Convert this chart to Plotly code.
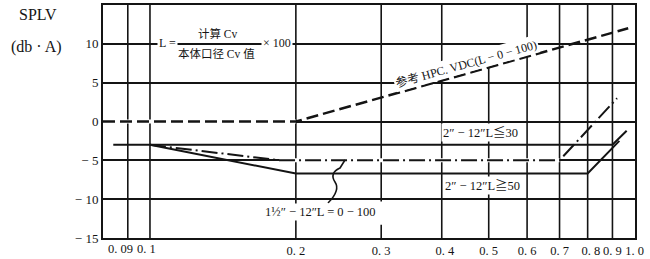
import numpy as np
import plotly.graph_objects as go

# ---------------- data ----------------
hpc_x = [0.08, 0.2, 0.97]          # 参考 HPC. VDC (L=0-100)
hpc_y = [0, 0, 12]
l_all_x = [0.1, 0.185, 0.7, 0.92]  # 1½"-12" L=0-100
l_all_y = [-3, -5, -5, 3]
l30_x = [0.084, 0.9, 0.963]        # 2"-12" L<=30
l30_y = [-3, -3, -1.2]
l50_x = [0.1, 0.2, 0.8, 0.93]      # 2"-12" L>=50
l50_y = [-3, -6.7, -6.7, -2.5]

x_ticks = [0.09, 0.1, 0.2, 0.3, 0.4, 0.5, 0.6, 0.7, 0.8, 0.9, 1.0]
x_ticktext = ["0. 09", "0. 1", "0. 2", "0. 3", "0. 4", "0. 5", "0. 6", "0. 7", "0. 8", "0. 9", "1. 0"]
y_ticks = [-15, -10, -5, 0, 5, 10, 15]
y_ticktext = ["− 15", "− 10", "− 5", "0", "5", "10", "15"]

# ---------------- layout geometry ----------------
W, H = 650, 259
ML, MR, MT, MB = 103, 15, 5, 21
PW, PH = W - ML - MR, H - MT - MB

def px(x):  # pixel -> paper x
    return (x - ML) / PW

def py(y):  # pixel -> paper y
    return (H - MB - y) / PH

SERIF = "Liberation Serif, Times New Roman, Noto Sans CJK SC, serif"
INK = "#141414"
NB = "\u00a0"

# the two crowded labels at the left are set by hand (as in the print); others via the axis
crowded = {0.09: 120, 0.1: 146}   # label centre, pixels
pad_left = {0.4: 2, 0.8: 2}
tick_labels = ["" if v in crowded else NB * pad_left.get(v, 0) + t
               for v, t in zip(x_ticks, x_ticktext)]

fig = go.Figure()

# white underlays to hide grid under the broken horizontal parts
fig.add_trace(go.Scatter(x=hpc_x[:2], y=hpc_y[:2], mode="lines",
                         line=dict(color="white", width=4), hoverinfo="skip", showlegend=False))
fig.add_trace(go.Scatter(x=l_all_x[1:3], y=l_all_y[1:3], mode="lines",
                         line=dict(color="white", width=4), hoverinfo="skip", showlegend=False))

fig.add_trace(go.Scatter(x=hpc_x, y=hpc_y, mode="lines",
                         line=dict(color=INK, width=2.5, dash="12px,5px"), showlegend=False))
fig.add_trace(go.Scatter(x=l_all_x, y=l_all_y, mode="lines",
                         line=dict(color=INK, width=2, dash="16px,4px,2px,4px"), showlegend=False))
fig.add_trace(go.Scatter(x=l30_x, y=l30_y, mode="lines",
                         line=dict(color=INK, width=2), showlegend=False))
fig.add_trace(go.Scatter(x=l50_x, y=l50_y, mode="lines",
                         line=dict(color=INK, width=2), showlegend=False))

# vertical grid lines (some broken, as in the original)
grid_segments = {0.3: [(-15, -13.3), (-10.3, 15)], 0.5: [(-15, 7)]}
shapes = []
for gx in x_ticks[:-1]:
    for (ya, yb) in grid_segments.get(gx, [(-15, 15)]):
        shapes.append(dict(type="line", xref="x", yref="y", x0=gx, x1=gx, y0=ya, y1=yb,
                           line=dict(color=INK, width=1.6), layer="below"))

# squiggle leader for the 1½" label
shapes.append(dict(type="path", xref="paper", yref="paper",
                   path=(f"M {px(328)},{py(203)} C {px(336)},{py(195)} {px(339)},{py(188)} {px(335)},{py(182)} "
                         f"S {px(333)},{py(171)} {px(340)},{py(168)} L {px(345)},{py(160)}"),
                   line=dict(color=INK, width=1.6)))

fig.update_layout(shapes=shapes)

ann = []
def add_text(text, x, y, size=12, bg=None, angle=0, xanchor="center"):
    ann.append(dict(text=text, x=px(x), y=py(y), xref="paper", yref="paper",
                    showarrow=False, textangle=angle, xanchor=xanchor, yanchor="middle",
                    font=dict(family=SERIF, size=size, color=INK),
                    bgcolor=bg, borderpad=1))

# formula
add_text("L =", 167, 43, size=12, bg="white")
add_text("计算 Cv", 218, 33, size=11.5)
add_text("本体口径 Cv 值", 216, 53, size=11.5)
add_text("× 100", 277, 43, size=12, bg="white")
# series labels
add_text("参考 HPC. VDC(L − 0 − 100)", 466, 63, size=12, bg="white", angle=-15.6)
add_text("2″ − 12″L≦30", 480, 132, size=12.5, bg="white")
add_text("2″ − 12″L≧50", 482, 185, size=12.5, bg="white")
add_text("1½″ − 12″L = 0 − 100", 320, 212, size=12.5, bg="white")
# axis title
add_text("SPLV", 38, 15, size=16)
add_text("(db · A)", 36, 47, size=16)
# crowded x tick labels
for v, t in zip(x_ticks, x_ticktext):
    if v in crowded:
        ann.append(dict(text=t, x=px(crowded[v]), y=py(249), xref="paper", yref="paper",
                        showarrow=False, xanchor="center", yanchor="middle",
                        font=dict(family=SERIF, size=12.5, color=INK), borderpad=0))

fig.update_layout(annotations=ann)

fig.update_xaxes(type="log", range=[np.log10(0.08), 0.0008],
                 tickmode="array", tickvals=x_ticks, ticktext=tick_labels, tickangle=0,
                 showgrid=False, zeroline=False, automargin=False,
                 showline=True, mirror=True, linecolor=INK, linewidth=2,
                 ticks="", ticklabelstandoff=0,
                 tickfont=dict(family=SERIF, size=12.5, color=INK))
fig.update_yaxes(range=[-15, 15], tickmode="array", tickvals=y_ticks, ticktext=y_ticktext,
                 showgrid=True, gridcolor=INK, gridwidth=1.6, zeroline=False, automargin=False,
                 showline=True, mirror=True, linecolor=INK, linewidth=2,
                 ticks="", tickfont=dict(family=SERIF, size=13, color=INK))

fig.update_layout(width=W, height=H, margin=dict(l=ML, r=MR, t=MT, b=MB),
                  paper_bgcolor="white", plot_bgcolor="white", showlegend=False)

fig.write_html("out.html")
